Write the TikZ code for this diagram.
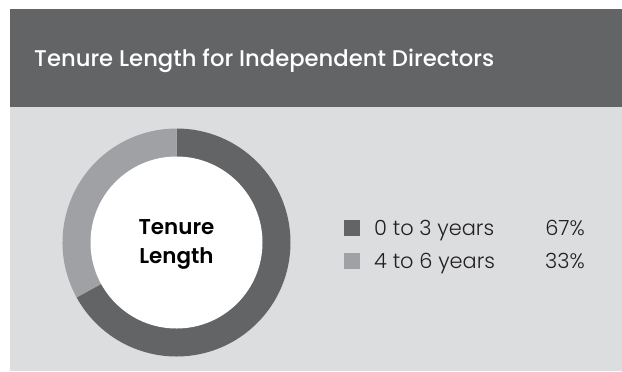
\documentclass[tikz,border=0pt]{standalone}
\usepackage{fontspec}
\setmainfont{Poppins}
\newfontfamily\medfont{Poppins Medium}
\newfontfamily\semifont{Poppins SemiBold}
\newfontfamily\lightfont{Poppins Light}
\definecolor{hdr}{HTML}{636466}
\definecolor{bodybg}{HTML}{DCDDDF}
\definecolor{darkseg}{HTML}{636466}
\definecolor{lightseg}{HTML}{A0A1A4}
\definecolor{txt}{HTML}{231F20}
\tikzset{
  legtext/.style={anchor=base west, text=txt, font=\lightfont\fontsize{21}{24}\selectfont, inner sep=0pt},
  legpct/.style={anchor=base east, text=txt, font=\lightfont\fontsize{21}{24}\selectfont, inner sep=0pt},
  legbox/.style={minimum size=16bp, inner sep=0pt, draw=none}
}
\begin{document}
\begin{tikzpicture}[x=1bp,y=-1bp]
\useasboundingbox (0,0) rectangle (622,371);
\fill[white] (0,0) rectangle (622,371);
% panel
\fill[hdr] (10,9) rectangle (622,107);
\fill[bodybg] (10,107) rectangle (622,371);
\node[anchor=base west, text=white, font=\medfont\fontsize{22.8}{26}\selectfont, inner sep=0pt] (title) at (34,66.5) {Tenure Length for Independent Directors};
% donut
\coordinate (c) at (176.5,242.5);
\fill[darkseg] (c) -- ++(-90:114) arc[start angle=-90, end angle=151.2, radius=114] -- cycle;
\fill[lightseg] (c) -- ++(151.2:114) arc[start angle=151.2, end angle=270, radius=114] -- cycle;
\fill[white] (c) circle[radius=86];
\node[align=center, text=black, font=\semifont\fontsize{21.5}{29}\selectfont, inner sep=0pt] (center) at (176.5,244) {Tenure\\Length};
% legend
\node[legbox, fill=darkseg] (b1) at (352,228) {};
\node[legbox, fill=lightseg] (b2) at (352,261) {};
\node[legtext] (t1) at (374,235.5) {0 to 3 years};
\node[legtext] (t2) at (374,268.5) {4 to 6 years};
\node[legpct] (p1) at (585,235.5) {67\%};
\node[legpct] (p2) at (585,268.5) {33\%};
\end{tikzpicture}
\end{document}
